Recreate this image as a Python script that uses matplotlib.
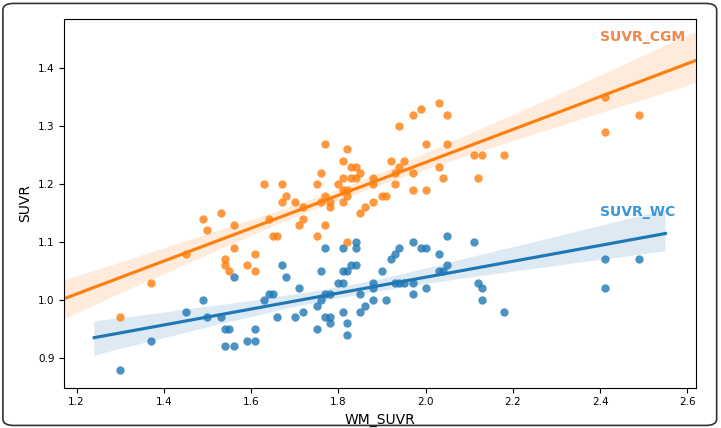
import matplotlib
matplotlib.use("Agg")
import matplotlib.pyplot as plt
from matplotlib.patches import FancyBboxPatch
import numpy as np
import seaborn as sns

# WM_SUVR vs SUVR_CGM (orange)
cgm_x = [1.30, 1.37, 1.45, 1.49, 1.50, 1.53, 1.54, 1.54, 1.55, 1.56, 1.56, 1.59, 1.61, 1.61,
         1.63, 1.64, 1.65, 1.66, 1.67, 1.67, 1.68, 1.70, 1.71, 1.72, 1.72, 1.75, 1.75, 1.76,
         1.76, 1.77, 1.77, 1.77, 1.78, 1.78, 1.80, 1.81, 1.81, 1.81, 1.81, 1.82, 1.82, 1.82,
         1.82, 1.83, 1.84, 1.83, 1.84, 1.85, 1.85, 1.86, 1.88, 1.88, 1.88, 1.90, 1.91, 1.92,
         1.93, 1.93, 1.94, 1.94, 1.95, 1.97, 1.97, 1.97, 1.99, 2.00, 2.00, 2.03, 2.03, 2.04,
         2.05, 2.05, 2.11, 2.12, 2.13, 2.18, 2.41, 2.41, 2.49]
cgm_y = [0.97, 1.03, 1.08, 1.14, 1.12, 1.15, 1.07, 1.06, 1.05, 1.09, 1.13, 1.06, 1.08, 1.05,
         1.20, 1.14, 1.11, 1.11, 1.20, 1.17, 1.18, 1.17, 1.13, 1.16, 1.14, 1.11, 1.20, 1.22,
         1.17, 1.13, 1.27, 1.18, 1.17, 1.16, 1.20, 1.24, 1.21, 1.19, 1.17, 1.19, 1.10, 1.26,
         1.18, 1.23, 1.23, 1.21, 1.21, 1.15, 1.22, 1.16, 1.21, 1.20, 1.17, 1.18, 1.18, 1.24,
         1.20, 1.22, 1.23, 1.30, 1.24, 1.32, 1.22, 1.19, 1.33, 1.27, 1.19, 1.34, 1.23, 1.21,
         1.32, 1.27, 1.25, 1.21, 1.25, 1.25, 1.35, 1.29, 1.32]

# WM_SUVR vs SUVR_WC (blue)
wc_x = [1.30, 1.37, 1.45, 1.49, 1.50, 1.53, 1.54, 1.55, 1.54, 1.56, 1.56, 1.59, 1.61, 1.61,
        1.63, 1.64, 1.65, 1.66, 1.67, 1.68, 1.70, 1.71, 1.72, 1.75, 1.75, 1.76, 1.76, 1.77,
        1.77, 1.78, 1.77, 1.78, 1.78, 1.80, 1.81, 1.81, 1.82, 1.81, 1.81, 1.82, 1.82, 1.83,
        1.84, 1.84, 1.84, 1.85, 1.85, 1.86, 1.88, 1.88, 1.88, 1.90, 1.91, 1.92, 1.93, 1.94,
        1.93, 1.94, 1.95, 1.97, 1.97, 1.97, 1.99, 2.00, 2.00, 2.03, 2.03, 2.04, 2.05, 2.05,
        2.11, 2.12, 2.13, 2.13, 2.18, 2.41, 2.41, 2.49]
wc_y = [0.88, 0.93, 0.98, 1.00, 0.97, 0.97, 0.95, 0.95, 0.92, 0.92, 1.04, 0.93, 0.93, 0.95,
        1.00, 1.01, 1.01, 0.97, 1.06, 1.04, 0.97, 1.02, 0.98, 0.95, 0.99, 1.00, 1.05, 1.09,
        1.01, 1.01, 0.97, 0.97, 0.96, 1.03, 1.03, 1.05, 1.05, 1.09, 0.98, 0.96, 0.94, 1.06,
        1.06, 1.10, 1.09, 1.01, 0.98, 0.99, 1.03, 1.02, 1.00, 1.05, 1.00, 1.07, 1.08, 1.09,
        1.03, 1.03, 1.03, 1.10, 1.03, 1.01, 1.09, 1.09, 1.02, 1.08, 1.05, 1.05, 1.11, 1.06,
        1.10, 1.03, 1.02, 1.00, 0.98, 1.07, 1.02, 1.07]

fig = plt.figure(figsize=(7.21, 4.28), dpi=100)
ax = fig.add_axes([0.089, 0.094, 0.876, 0.862])

sns.regplot(x=np.array(wc_x), y=np.array(wc_y), ax=ax, color="#1f77b4",
            truncate=False, seed=3, scatter_kws={"s": 36, "linewidths": 0})
ax.set_xlim(1.1716, 2.619)
sns.regplot(x=np.array(cgm_x), y=np.array(cgm_y), ax=ax, color="#ff7f0e",
            truncate=False, seed=3, scatter_kws={"s": 36, "linewidths": 0})
ax.set_xlim(1.1716, 2.619)
ax.set_ylim(0.8485, 1.4853)

ax.set_xticks([1.2, 1.4, 1.6, 1.8, 2.0, 2.2, 2.4, 2.6])
ax.set_yticks([0.9, 1.0, 1.1, 1.2, 1.3, 1.4])
ax.tick_params(labelsize=7.5)
ax.set_xlabel("WM_SUVR", fontsize=10)
ax.set_ylabel("SUVR", fontsize=10)

ax.text(2.40, 1.454, "SUVR_CGM", color="#f0864a", fontsize=10, fontweight="bold", va="center")
ax.text(2.40, 1.152, "SUVR_WC", color="#3a98d8", fontsize=10, fontweight="bold", va="center")

# rounded frame around the whole picture
fig.patches.append(FancyBboxPatch((0.004, 0.006), 0.99, 0.986,
                                  boxstyle="round,pad=0,rounding_size=0.015",
                                  transform=fig.transFigure, fill=False,
                                  ec="#333333", lw=1.2))

fig.savefig("out.png", dpi=100)
